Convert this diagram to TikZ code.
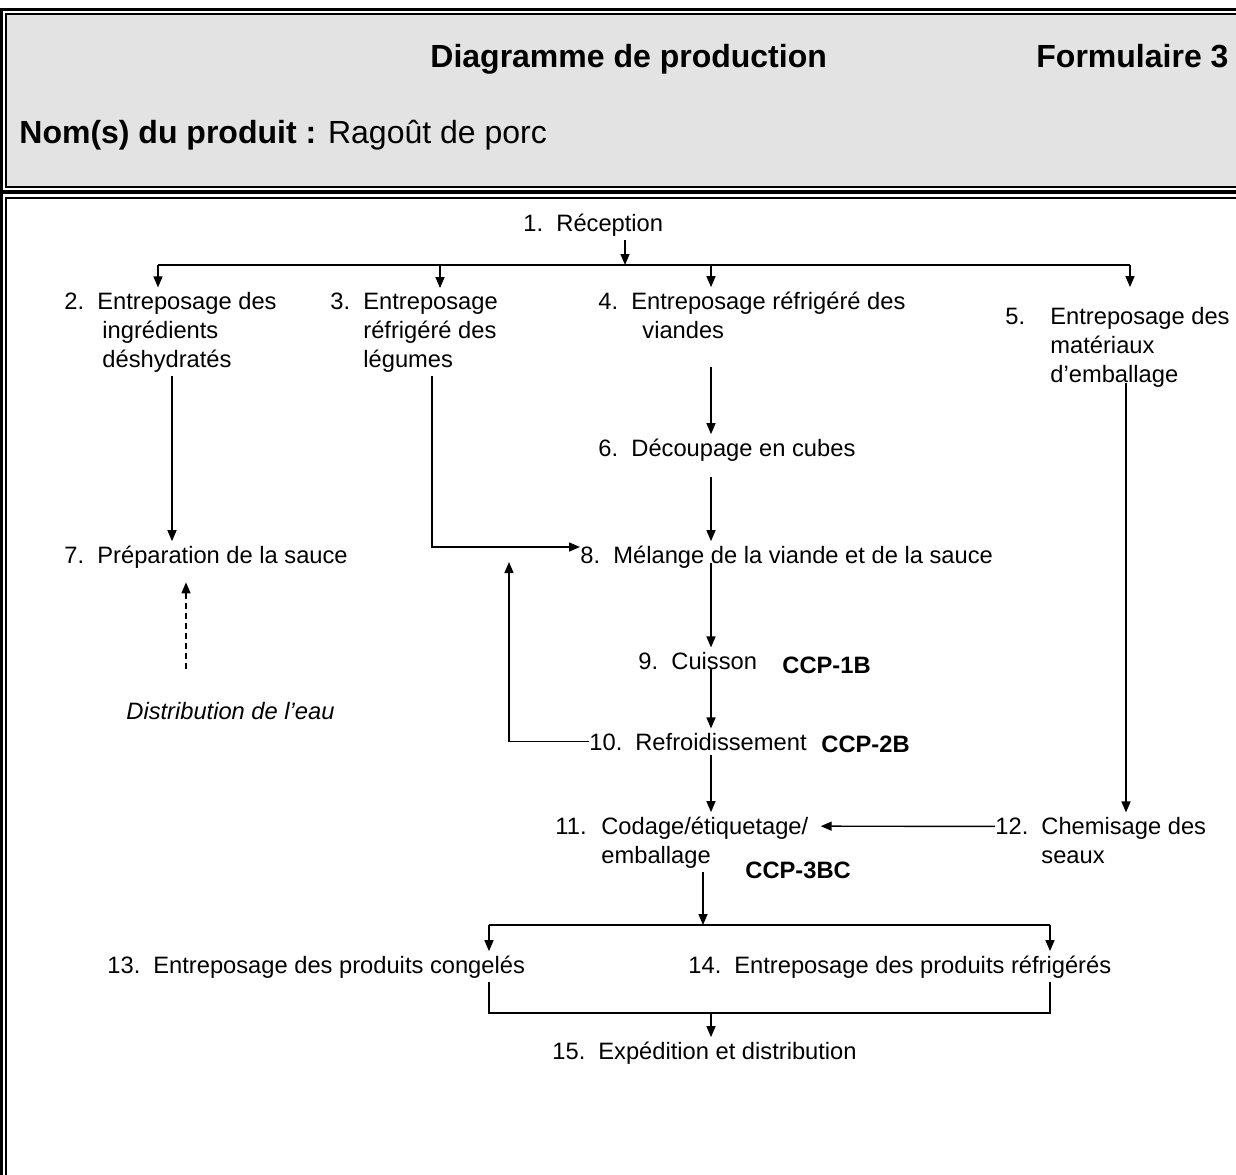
\documentclass[tikz,border=0pt]{standalone}
\usepackage{fontspec}
\setmainfont{Liberation Sans}
\usetikzlibrary{arrows.meta,positioning}
\definecolor{headgray}{RGB}{227,227,227}
\newcommand{\stepnum}[2][16.5pt]{\makebox[#1][l]{#2}}
\tikzset{
    stepbase/.style={
        inner xsep=0pt,
        inner ysep=2pt,
        anchor=base west,
        align=left,
        font=\fontsize{11.85}{14.5}\selectfont
    },
    ccpnode/.style={stepbase, font=\fontsize{11.85}{14.5}\selectfont\bfseries},
    waternode/.style={stepbase, font=\fontsize{11.85}{14.5}\selectfont\itshape},
    headtext/.style={inner sep=0pt, anchor=base west, font=\fontsize{16}{19}\selectfont\bfseries},
    line/.style={-{Triangle[length=5.5pt,width=4.5pt]}, line width=0.7pt},
    plainline/.style={line width=0.7pt},
    waterline/.style={line, dash pattern=on 3pt off 2pt},
    outerframe/.style={line width=1.6pt},
    innerframe/.style={line width=1pt},
}

\begin{document}
\begin{tikzpicture}[x=0.5pt, y=-0.5pt]
    \path[use as bounding box, clip] (0,0) rectangle (1236,1174);

    % frames
    \draw[outerframe] (1.5,9.5) rectangle (1260,192);
    \draw[innerframe, fill=headgray] (5.5,14) rectangle (1260,186.5);
    \draw[outerframe] (1.5,192) rectangle (1260,1200);
    \draw[innerframe] (5.5,198) rectangle (1260,1200);

    % header
    \node[headtext] (title) at (430,67) {Diagramme de production};
    \node[headtext] (form) at (1036,67) {Formulaire 3};
    \node[headtext] (product) at (19,143) {Nom(s) du produit : {\mdseries Ragoût de porc}};

    % steps (multi-line nodes sit on their last line)
    \node[stepbase] (n1) at (523,231) {\stepnum{1.}Réception};
    \node[stepbase] (n2) at (64,367) {\stepnum{2.}Entreposage des\\\hspace*{19pt}ingrédients\\\hspace*{19pt}déshydratés};
    \node[stepbase] (n3) at (330,367) {\stepnum{3.}Entreposage\\\hspace*{16.5pt}réfrigéré des\\\hspace*{16.5pt}légumes};
    \node[stepbase] (n4) at (598,338) {\stepnum{4.}Entreposage réfrigéré des\\\hspace*{22pt}viandes};
    \node[stepbase] (n5) at (1005,382) {\stepnum[22.5pt]{5.}Entreposage des\\\hspace*{22.5pt}matériaux\\\hspace*{22.5pt}d’emballage};
    \node[stepbase] (n6) at (598,456) {\stepnum{6.}Découpage en cubes};
    \node[stepbase] (n7) at (64,563) {\stepnum{7.}Préparation de la sauce};
    \node[stepbase] (n8) at (580,563) {\stepnum{8.}Mélange de la viande et de la sauce};
    \node[waternode] (water) at (126,719) {Distribution de l’eau};
    \node[stepbase] (n9) at (638,669) {\stepnum{9.}Cuisson};
    \node[ccpnode] (ccp1) at (782,673) {CCP-1B};
    \node[stepbase] (n10) at (589,750) {\stepnum[23pt]{10.}Refroidissement};
    \node[ccpnode] (ccp2) at (821,752) {CCP-2B};
    \node[stepbase] (n11) at (555,863) {\stepnum[23pt]{11.}Codage/étiquetage/\\\hspace*{23pt}emballage};
    \node[ccpnode] (ccp3) at (745,878) {CCP-3BC};
    \node[stepbase] (n12) at (995,863) {\stepnum[23pt]{12.}Chemisage des\\\hspace*{23pt}seaux};
    \node[stepbase] (n13) at (107,973) {\stepnum[23pt]{13.}Entreposage des produits congelés};
    \node[stepbase] (n14) at (688,973) {\stepnum[23pt]{14.}Entreposage des produits réfrigérés};
    \node[stepbase] (n15) at (552,1059) {\stepnum[23pt]{15.}Expédition et distribution};

    % junctions and lanes
    \coordinate (split1) at (625,265);
    \coordinate (bus1w) at (158,265);
    \coordinate (bus1e) at (1130,265);
    \coordinate (col3) at (440,265);
    \coordinate (col4) at (711,265);
    \coordinate (lane2) at (172,0);
    \coordinate (lane4) at (711,0);
    \coordinate (lane5) at (1126,0);
    \coordinate (lanew) at (186,0);
    \coordinate (mix) at (432,547);
    \coordinate (loop) at (509,562);
    \coordinate (split2) at (703,925);
    \coordinate (bus2w) at (489,925);
    \coordinate (bus2e) at (1050,925);
    \coordinate (join) at (711,1013);

    % reception to storage
    \draw[line] (n1.south -| split1) -- (split1);
    \draw[plainline] (bus1w) -- (bus1e);
    \draw[line] (bus1w) -- (bus1w |- n2.north);
    \draw[line] (col3) -- (col3 |- n3.north);
    \draw[line] (col4) -- (col4 |- n4.north);
    \draw[line] (bus1e) -- (bus1e |- n4.north);

    % main flow
    \draw[line] (n2.south -| lane2) -- (n7.north -| lane2);
    \draw[line] (n3.south -| mix) -- (mix) -- (mix -| n8.west);
    \draw[line, shorten <=12pt] (n4.south -| lane4) -- (n6.north -| lane4);
    \draw[line, shorten <=6pt] (n6.south -| lane4) -- (n8.north -| lane4);
    \draw[line] (n8.base -| lane4) -- (n9.north -| lane4);
    \draw[line] (n9.base -| lane4) -- (n10.north -| lane4);
    \draw[line] (n10.west) -| (loop);
    \draw[line] (n10.south -| lane4) -- (n11.north -| lane4);
    \draw[line, shorten <=-4pt] (n5.south -| lane5) -- (n12.north -| lane5);
    \draw[line] ([yshift=-7pt]n12.north west) -- ([xshift=6pt,yshift=-7pt]n11.north east);
    \draw[waterline, shorten <=14pt, shorten >=5pt] (water.north -| lanew) -- (n7.south -| lanew);

    % storage and shipping
    \draw[line] (n11.south -| split2) -- (split2);
    \draw[plainline] (bus2w) -- (bus2e);
    \draw[line] (bus2w) -- (bus2w |- n13.north);
    \draw[line] (bus2e) -- (bus2e |- n14.north);
    \draw[plainline] (n13.south -| bus2w) |- (join) -| (n14.south -| bus2e);
    \draw[line] (join) -- (join |- n15.north);
\end{tikzpicture}
\end{document}
